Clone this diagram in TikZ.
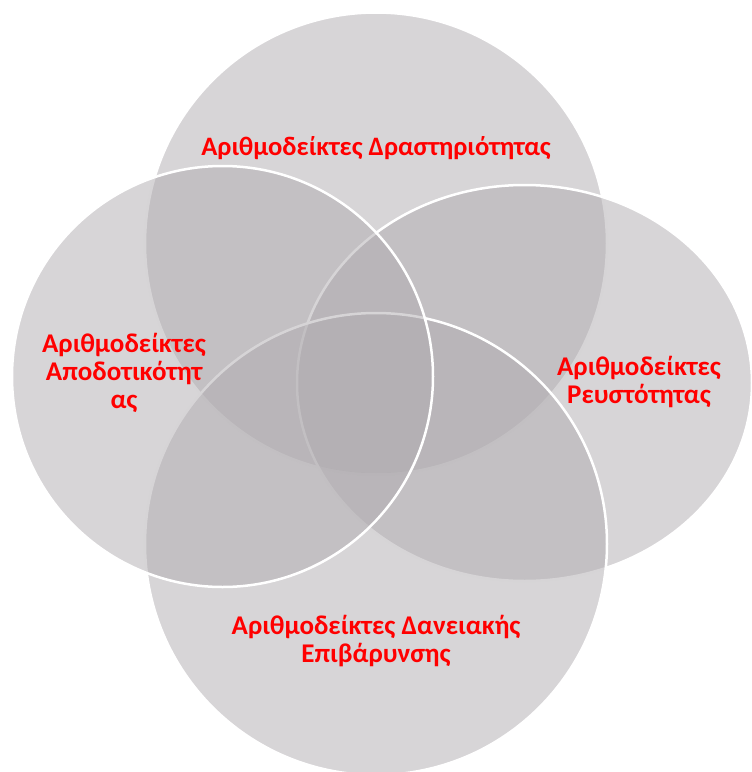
\documentclass[tikz,border=0pt]{standalone}
\usepackage{fontspec}
\setmainfont{Carlito}

\definecolor{venngray}{RGB}{175,171,175}
\definecolor{vennred}{RGB}{255,0,0}

\tikzset{
    venn/.style={fill=venngray, fill opacity=0.5, draw=white, line width=2.5pt},
    vennlabel/.style={text=vennred, anchor=base, align=center,
        font=\bfseries\fontsize{27}{28}\selectfont}
}

\begin{document}
\begin{tikzpicture}[x=1pt,y=-1pt]
        \useasboundingbox (0,0) rectangle (752,772);

        % Draw the four sets (top, right, bottom, left)
        \foreach \cx/\cy/\rx/\ry in {376/243.5/231/231, 524.5/383/227.5/198,
                                      376/544/231/231, 222.5/376.5/210.5/210.5} {
            \draw[venn] (\cx,\cy) ellipse ({\rx} and {\ry});
        };

        % Labels of the sets (base anchor sits on the last line)
        \node[vennlabel, font=\bfseries\fontsize{26.6}{28}\selectfont] (activity) at (376,155) {Αριθμοδείκτες Δραστηριότητας};
        \node[vennlabel] (liquidity) at (639,403) {Αριθμοδείκτες\\Ρευστότητας};
        \node[vennlabel] (leverage) at (376,662) {Αριθμοδείκτες Δανειακής\\Επιβάρυνσης};
        \node[vennlabel] (profitability) at (124,408) {Αριθμοδείκτες\\Αποδοτικότητ\\ας};
    \end{tikzpicture}
\end{document}
